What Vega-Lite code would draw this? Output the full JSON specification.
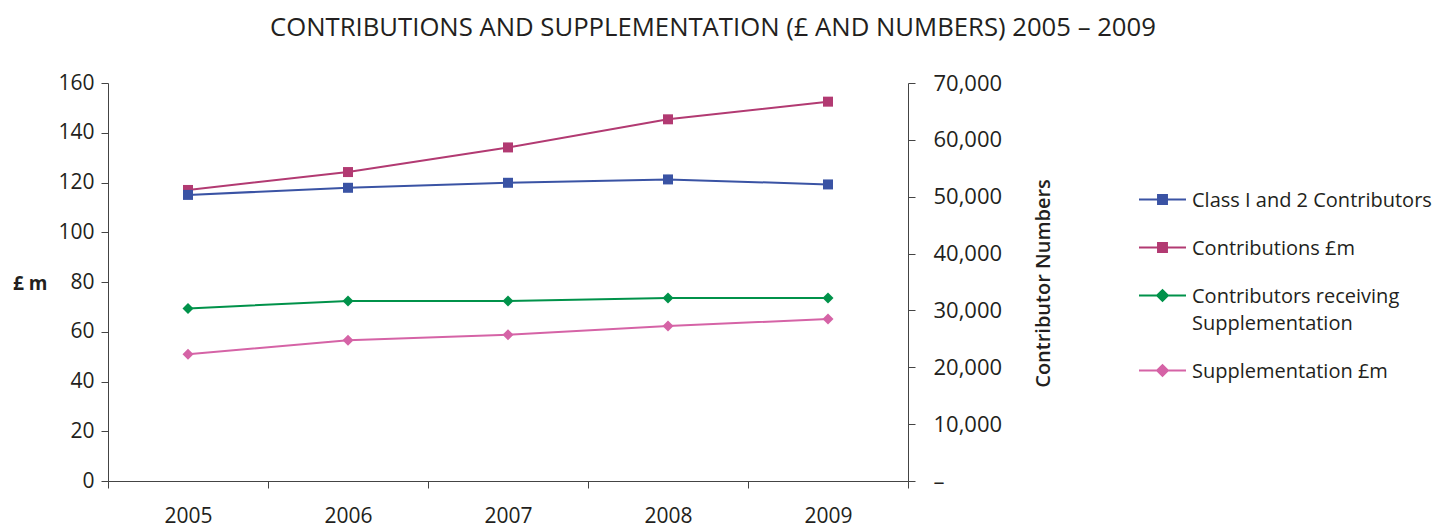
{
  "$schema": "https://vega.github.io/schema/vega-lite/v6.json",
  "width": 800,
  "height": 398,
  "autosize": {"type": "none"},
  "padding": {"left": 108, "top": 83, "right": 540, "bottom": 44},
  "background": "white",
  "config": {
    "font": "Open Sans",
    "view": {"stroke": null},
    "axis": {
      "domainColor": "#444444",
      "tickColor": "#444444",
      "domainWidth": 1,
      "tickWidth": 1,
      "tickSize": 7,
      "labelColor": "#231F20",
      "labelFontSize": 21,
      "labelFont": "Open Sans",
      "titleColor": "#231F20",
      "titleFont": "Open Sans",
      "grid": false
    }
  },
  "title": {
    "text": "CONTRIBUTIONS AND SUPPLEMENTATION (£ AND NUMBERS) 2005 – 2009",
    "fontSize": 25.7,
    "fontWeight": "normal",
    "font": "Open Sans",
    "color": "#231F20",
    "anchor": "middle",
    "dx": 205,
    "offset": 30
  },
  "data": {
    "values": [
      {"year": "2005", "series": "Class I and 2 Contributors", "value": 50320},
      {"year": "2006", "series": "Class I and 2 Contributors", "value": 51570},
      {"year": "2007", "series": "Class I and 2 Contributors", "value": 52450},
      {"year": "2008", "series": "Class I and 2 Contributors", "value": 53040},
      {"year": "2009", "series": "Class I and 2 Contributors", "value": 52160},
      {"year": "2005", "series": "Contributions £m", "value": 117.0},
      {"year": "2006", "series": "Contributions £m", "value": 124.2},
      {"year": "2007", "series": "Contributions £m", "value": 134.1},
      {"year": "2008", "series": "Contributions £m", "value": 145.4},
      {"year": "2009", "series": "Contributions £m", "value": 152.5},
      {"year": "2005", "series": "Contributors receiving Supplementation", "value": 30360},
      {"year": "2006", "series": "Contributors receiving Supplementation", "value": 31650},
      {"year": "2007", "series": "Contributors receiving Supplementation", "value": 31650},
      {"year": "2008", "series": "Contributors receiving Supplementation", "value": 32180},
      {"year": "2009", "series": "Contributors receiving Supplementation", "value": 32180},
      {"year": "2005", "series": "Supplementation £m", "value": 51.0},
      {"year": "2006", "series": "Supplementation £m", "value": 56.6},
      {"year": "2007", "series": "Supplementation £m", "value": 58.8},
      {"year": "2008", "series": "Supplementation £m", "value": 62.3},
      {"year": "2009", "series": "Supplementation £m", "value": 65.1}
    ]
  },
  "encoding": {
    "x": {
      "field": "year",
      "type": "ordinal",
      "scale": {"type": "band", "paddingInner": 0, "paddingOuter": 0},
      "axis": {"title": null, "labelAngle": 0, "tickBand": "extent", "labelPadding": 17}
    },
    "color": {
      "field": "series",
      "type": "nominal",
      "scale": {
        "domain": ["Class I and 2 Contributors", "Contributions £m", "Contributors receiving Supplementation", "Supplementation £m"],
        "range": ["#3A53A4", "#B23A72", "#00924A", "#D563A6"]
      },
      "legend": {
        "title": null,
        "orient": "none",
        "legendX": 1030,
        "legendY": 92,
        "padding": 0,
        "symbolSize": 2209,
        "labelFontSize": 20,
        "labelFont": "Open Sans",
        "labelColor": "#231F20",
        "labelOffset": 5,
        "labelLimit": 500,
        "labelBaseline": "top",
        "rowPadding": 12,
        "labelExpr": "datum.value == 'Contributors receiving Supplementation' ? ['Contributors receiving', 'Supplementation'] : datum.label",
        "encode": {
          "symbols": {
            "update": {
              "shape": {"signal": "(datum.value == 'Contributors receiving Supplementation' || datum.value == 'Supplementation £m') ? 'M-1,0H1M-0.23,0L0,-0.23L0.23,0L0,0.23Z' : 'M-1,0H1M-0.19,-0.19H0.19V0.19H-0.19Z'"},
              "fill": {"scale": "color", "field": "value"},
              "stroke": {"scale": "color", "field": "value"},
              "strokeWidth": {"value": 2},
              "opacity": {"value": 1},
              "fillOpacity": {"value": 1},
              "strokeOpacity": {"value": 1}
            }
          },
          "labels": {
            "update": {
              "lineHeight": {"value": 27},
              "dy": {"value": -9}
            }
          }
        }
      }
    }
  },
  "layer": [
    {
      "transform": [{"filter": "datum.series == 'Contributions £m' || datum.series == 'Supplementation £m'"}],
      "encoding": {
        "y": {
          "field": "value",
          "type": "quantitative",
          "scale": {"domain": [0, 160], "nice": false},
          "axis": {
            "orient": "left",
            "values": [0, 20, 40, 60, 80, 100, 120, 140, 160],
            "labelPadding": 7,
            "title": "£ m",
            "titleAngle": 0,
            "titleAlign": "right",
            "titleBaseline": "middle",
            "titleX": -61,
            "titleY": 200,
            "titleFontSize": 19,
            "titleFontWeight": "bold"
          }
        }
      },
      "layer": [
        {"mark": {"type": "line", "strokeWidth": 2}},
        {
          "transform": [{"filter": "datum.series == 'Contributions £m'"}],
          "mark": {"type": "point", "shape": "square", "filled": true, "size": 100, "opacity": 1}
        },
        {
          "transform": [{"filter": "datum.series == 'Supplementation £m'"}],
          "mark": {"type": "point", "shape": "diamond", "filled": true, "size": 121, "opacity": 1}
        }
      ]
    },
    {
      "transform": [{"filter": "datum.series == 'Class I and 2 Contributors' || datum.series == 'Contributors receiving Supplementation'"}],
      "encoding": {
        "y": {
          "field": "value",
          "type": "quantitative",
          "scale": {"domain": [0, 70000], "nice": false},
          "axis": {
            "orient": "right",
            "values": [0, 10000, 20000, 30000, 40000, 50000, 60000, 70000],
            "labelExpr": "datum.value == 0 ? '–' : format(datum.value, ',')",
            "labelPadding": 18,
            "labelFontSize": 22,
            "title": "Contributor Numbers",
            "titleAngle": 270,
            "titleAlign": "center",
            "titleBaseline": "middle",
            "titleX": 135,
            "titleY": 200,
            "titleFontSize": 20,
            "titleFontWeight": 600
          }
        }
      },
      "layer": [
        {"mark": {"type": "line", "strokeWidth": 2}},
        {
          "transform": [{"filter": "datum.series == 'Class I and 2 Contributors'"}],
          "mark": {"type": "point", "shape": "square", "filled": true, "size": 100, "opacity": 1}
        },
        {
          "transform": [{"filter": "datum.series == 'Contributors receiving Supplementation'"}],
          "mark": {"type": "point", "shape": "diamond", "filled": true, "size": 121, "opacity": 1}
        }
      ]
    }
  ],
  "resolve": {"scale": {"y": "independent"}}
}
